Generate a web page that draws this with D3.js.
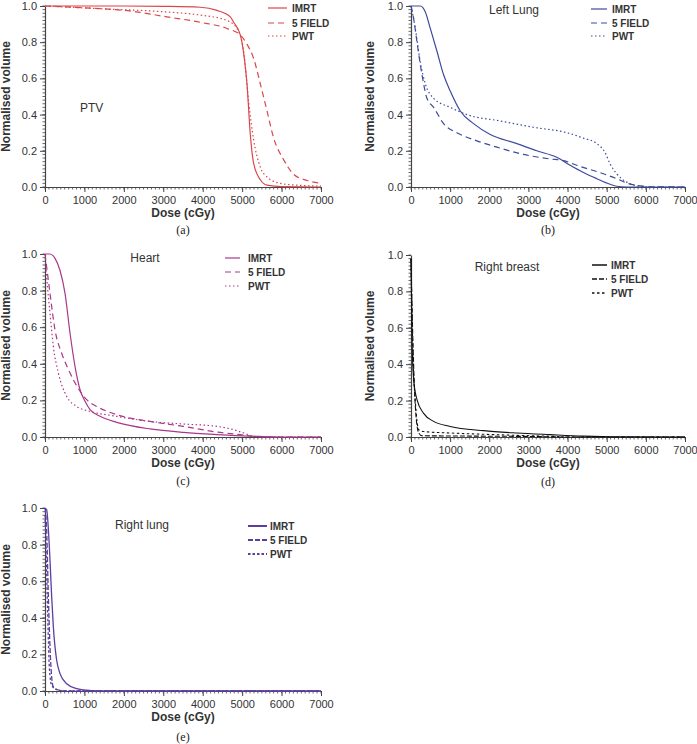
<!DOCTYPE html>
<html><head><meta charset="utf-8">
<script src="https://cdn.jsdelivr.net/npm/d3@7"></script>
<style>
html,body{margin:0;padding:0;background:#fff;}
svg{display:block;}
</style></head>
<body>
<svg id="chart" width="697" height="744"></svg>
<script>
// ---------- DATA (dose cGy, normalised volume) ----------
const seriesNames = ["IMRT", "5 FIELD", "PWT"];
const xTicks = [0,1000,2000,3000,4000,5000,6000,7000];
const yTicks = [0.0,0.2,0.4,0.6,0.8,1.0];

const ptvImrt = [[0,1],[1000,1],[2000,1],[3000,0.998],[3937,0.993],[4361,0.976],[4700,0.94],[4784,0.91],[4953,0.84],[5050,0.72],[5123,0.57],[5207,0.29],[5292,0.13],[5461,0.04],[5631,0.01],[6000,0.002],[7000,0]];
const ptv5f = [[0,1],[1000,0.99],[2244,0.97],[3090,0.94],[3937,0.91],[4615,0.876],[4953,0.84],[5120,0.79],[5292,0.71],[5461,0.57],[5631,0.42],[5800,0.27],[6054,0.15],[6308,0.07],[6647,0.036],[7000,0.02]];
const ptvPwt = [[0,1],[1397,0.985],[3090,0.967],[3937,0.95],[4615,0.92],[4869,0.876],[5038,0.75],[5165,0.47],[5292,0.26],[5461,0.11],[5631,0.055],[5970,0.02],[6400,0.01],[7000,0.005]];

const llImrt = [[0,1],[238,1],[366,0.967],[493,0.876],[663,0.75],[833,0.62],[1003,0.53],[1259,0.42],[1599,0.35],[2024,0.29],[2704,0.24],[3214,0.2],[3724,0.164],[4065,0.12],[4405,0.08],[4745,0.046],[5085,0.015],[5255,0.004],[5500,0],[7000,0]];
const ll5f = [[0,1],[68,0.93],[153,0.8],[281,0.62],[408,0.49],[578,0.44],[833,0.35],[1173,0.3],[1684,0.255],[2194,0.22],[2874,0.18],[3554,0.155],[3895,0.146],[4235,0.12],[4915,0.073],[5255,0.046],[5510,0.022],[5850,0.007],[6105,0.001],[7000,0]];
const llPwt = [[0,1],[110,0.876],[238,0.69],[366,0.57],[578,0.49],[1003,0.44],[1429,0.4],[2279,0.365],[3129,0.33],[3980,0.3],[4405,0.27],[4745,0.24],[4958,0.19],[5085,0.128],[5255,0.073],[5510,0.027],[5765,0.007],[6100,0],[7000,0]];

const htImrt = [[0,1],[127,1],[254,0.976],[381,0.91],[508,0.785],[635,0.567],[762,0.385],[889,0.258],[1016,0.195],[1143,0.149],[1397,0.113],[1820,0.08],[2667,0.044],[3514,0.025],[4361,0.013],[5207,0.004],[6000,0],[7000,0]];
const ht5f = [[0,1],[42,0.93],[127,0.785],[254,0.585],[423,0.458],[635,0.35],[889,0.25],[1058,0.204],[1312,0.167],[1820,0.122],[2667,0.085],[3514,0.058],[4361,0.027],[4953,0.013],[5292,0.004],[6000,0],[7000,0]];
const htPwt = [[0,1],[42,0.876],[127,0.676],[212,0.495],[339,0.35],[550,0.222],[804,0.167],[1143,0.14],[1820,0.113],[2667,0.085],[3514,0.071],[4361,0.058],[4784,0.04],[5038,0.022],[5292,0.004],[6000,0],[7000,0]];

const rbImrt = [[0,0.98],[26,0.53],[68,0.315],[153,0.205],[323,0.13],[578,0.086],[1003,0.058],[1854,0.035],[2704,0.022],[3554,0.013],[4405,0.005],[5300,0.001],[7000,0]];
const rb5f = [[0,0.98],[26,0.72],[68,0.39],[110,0.17],[196,0.022],[281,0.007],[1500,0.005],[3000,0.003],[4000,0],[7000,0]];
const rbPwt = [[0,0.98],[51,0.44],[110,0.2],[196,0.04],[323,0.03],[1003,0.022],[1854,0.015],[2704,0.009],[3554,0.004],[4000,0],[7000,0]];

const rlImrt = [[0,1],[42,0.99],[110,0.79],[169,0.516],[212,0.35],[296,0.168],[381,0.095],[550,0.04],[804,0.013],[1058,0.004],[1300,0.001],[7000,0]];
const rl5f = [[0,1],[42,0.88],[85,0.52],[127,0.24],[169,0.077],[212,0.022],[381,0.004],[600,0],[7000,0]];
const rlPwt = [[0,0.96],[25,0.79],[68,0.42],[110,0.13],[169,0.031],[296,0.007],[500,0],[7000,0]];

// ---------- PANELS ----------
const panels = [
  {x0:45, x1:321, y0:187, y1:6, color:"#d9474b", title:"PTV", tx:80, ty:108, tAnchor:"start",
   leg:{lx0:268,lx1:287,tx:292,ys:[8,23,36]}, ylabX:6, caption:"(a)", capY:230,
   dash:[null,"6,4","1.5,2.5"], legW:1.2, lineW:1.2, data:[ptvImrt,ptv5f,ptvPwt]},
  {x0:411, x1:685, y0:187, y1:6, color:"#3d4b9b", title:"Left Lung", tx:514, ty:10, tAnchor:"middle",
   leg:{lx0:591,lx1:607,tx:612,ys:[9,23,36]}, ylabX:370, caption:"(b)", capY:230,
   dash:[null,"6,4","1.5,2.5"], legW:1.2, lineW:1.2, data:[llImrt,ll5f,llPwt]},
  {x0:45, x1:321, y0:437, y1:254, color:"#a9388a", title:"Heart", tx:145, ty:258, tAnchor:"middle",
   leg:{lx0:225,lx1:240,tx:248,ys:[258,272,286]}, ylabX:6, caption:"(c)", capY:481,
   dash:[null,"6,4","1.5,2.5"], legW:1.2, lineW:1.2, data:[htImrt,ht5f,htPwt]},
  {x0:411, x1:685, y0:437, y1:255, color:"#111111", title:"Right breast", tx:507, ty:267, tAnchor:"middle",
   leg:{lx0:592,lx1:607,tx:611,ys:[265,279,293]}, ylabX:370, caption:"(d)", capY:482,
   dash:[null,"5,2","2.5,2.5"], legW:1.5, lineW:1.1, data:[rbImrt,rb5f,rbPwt]},
  {x0:45, x1:321, y0:691, y1:508, color:"#5b3ea0", title:"Right lung", tx:142, ty:525, tAnchor:"middle",
   leg:{lx0:248,lx1:267,tx:270,ys:[526,540,554]}, ylabX:6, caption:"(e)", capY:737,
   dash:[null,"5,2","2.5,2"], legW:2, lineW:1.3, data:[rlImrt,rl5f,rlPwt]}
];

const svg = d3.select("#chart");
const axisCol = "#444";
const labCol = "#333";

panels.forEach(p => {
  const x = d3.scaleLinear().domain([0,7000]).range([p.x0,p.x1]);
  const y = d3.scaleLinear().domain([0,1]).range([p.y0,p.y1]);
  const g = svg.append("g");

  // minor ticks
  const xMinor = d3.range(0,7001,100);
  g.selectAll(".xm").data(xMinor).join("line")
    .attr("x1",d=>x(d)).attr("x2",d=>x(d))
    .attr("y1",p.y0).attr("y2",p.y0+2.5)
    .attr("stroke",axisCol).attr("stroke-width",0.8);
  const yMinor = d3.range(0,1.0001,0.02);
  g.selectAll(".ym").data(yMinor).join("line")
    .attr("x1",p.x0-2.5).attr("x2",p.x0)
    .attr("y1",d=>y(d)).attr("y2",d=>y(d))
    .attr("stroke",axisCol).attr("stroke-width",0.8);

  // axes
  const xAxis = g.append("g").attr("transform",`translate(0,${p.y0})`)
    .call(d3.axisBottom(x).tickValues(xTicks).tickSize(5).tickSizeOuter(0).tickPadding(4).tickFormat(d3.format("d")));
  const yAxis = g.append("g").attr("transform",`translate(${p.x0},0)`)
    .call(d3.axisLeft(y).tickValues(yTicks).tickSize(5).tickSizeOuter(0).tickPadding(3).tickFormat(d3.format(".1f")));
  [xAxis,yAxis].forEach(a=>{
    a.select(".domain").attr("stroke",axisCol).attr("stroke-width",1.2);
    a.selectAll(".tick line").attr("stroke",axisCol).attr("stroke-width",1);
    a.selectAll(".tick text").attr("fill",labCol)
      .style("font-family","'Liberation Sans', Arial, sans-serif").style("font-size","11px");
  });

  // axis titles
  g.append("text").attr("x",(p.x0+p.x1)/2).attr("y",p.y0+30)
    .attr("text-anchor","middle").attr("fill","#333")
    .style("font-family","'Liberation Sans', Arial, sans-serif").style("font-size","12px").style("font-weight","bold")
    .text("Dose (cGy)");
  g.append("text").attr("transform",`translate(${p.ylabX+4},${(p.y0+p.y1)/2}) rotate(-90)`)
    .attr("text-anchor","middle").attr("fill","#333")
    .style("font-family","'Liberation Sans', Arial, sans-serif").style("font-size","12px").style("font-weight","bold")
    .text("Normalised volume");

  // caption
  g.append("text").attr("x",(p.x0+p.x1)/2).attr("y",p.capY+4)
    .attr("text-anchor","middle").attr("fill","#222")
    .style("font-family","'Liberation Serif', 'Times New Roman', serif").style("font-size","12px")
    .text(p.caption);

  // title
  g.append("text").attr("x",p.tx).attr("y",p.ty+4).attr("text-anchor",p.tAnchor).attr("fill","#333")
    .style("font-family","'Liberation Sans', Arial, sans-serif").style("font-size","12px")
    .text(p.title);

  // curves
  const line = d3.line().x(d=>x(d[0])).y(d=>y(d[1])).curve(d3.curveMonotoneX);
  p.data.forEach((s,i)=>{
    g.append("path").datum(s).attr("d",line).attr("fill","none")
      .attr("stroke",p.color).attr("stroke-width",p.lineW)
      .attr("stroke-dasharray",p.dash[i]);
  });

  // legend
  seriesNames.forEach((nm,i)=>{
    const yy = p.leg.ys[i];
    g.append("line").attr("x1",p.leg.lx0).attr("x2",p.leg.lx1).attr("y1",yy).attr("y2",yy)
      .attr("stroke",p.color).attr("stroke-width",p.legW).attr("stroke-dasharray",p.dash[i]);
    g.append("text").attr("x",p.leg.tx).attr("y",yy+3.5).attr("fill","#333")
      .style("font-family","'Liberation Sans', Arial, sans-serif").style("font-size","10px").style("font-weight","bold")
      .text(nm);
  });
});
</script>
</body></html>
